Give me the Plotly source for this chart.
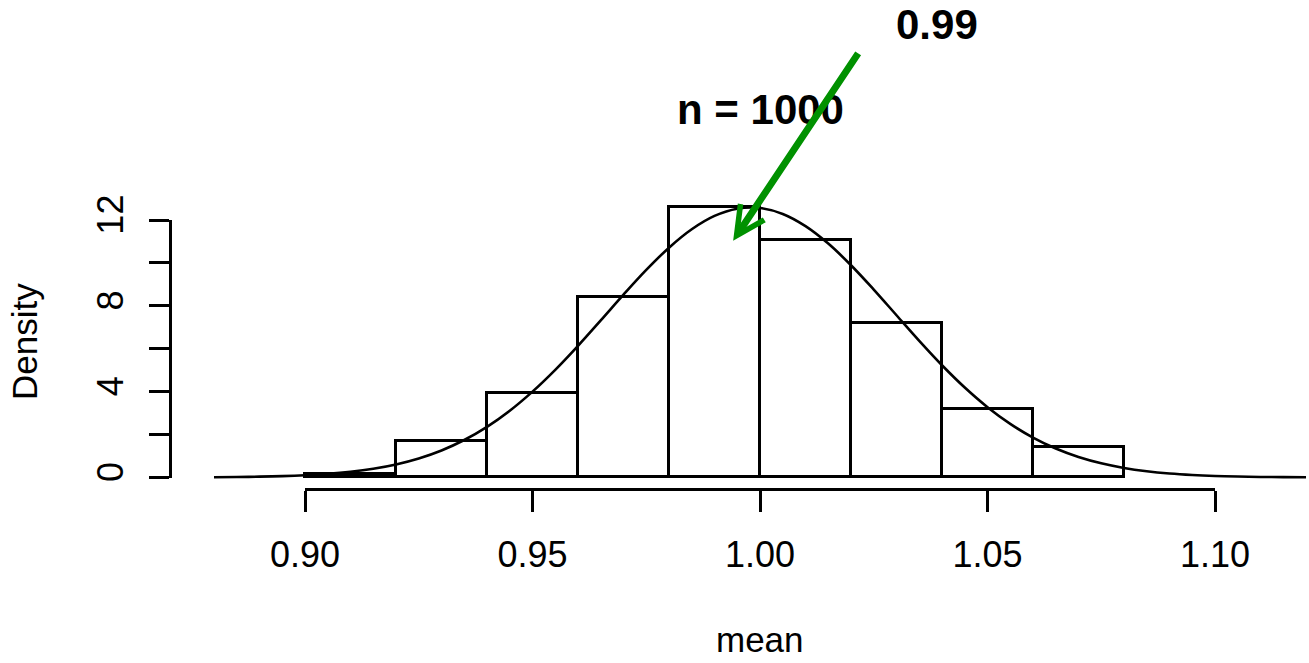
import plotly.graph_objects as go

# ---- data ----
bin_left = [0.90, 0.92, 0.94, 0.96, 0.98, 1.00, 1.02, 1.04, 1.06]
bin_width = 0.02
density = [0.15, 1.70, 3.95, 8.40, 12.60, 11.05, 7.20, 3.20, 1.40]

curve_x = [0.880, 0.885, 0.890, 0.895, 0.900, 0.905, 0.910, 0.915, 0.920, 0.925,
           0.930, 0.935, 0.940, 0.945, 0.950, 0.955, 0.960, 0.965, 0.970, 0.975,
           0.980, 0.985, 0.990, 0.995, 1.000, 1.005, 1.010, 1.015, 1.020, 1.025,
           1.030, 1.035, 1.040, 1.045, 1.050, 1.055, 1.060, 1.065, 1.070, 1.075,
           1.080, 1.085, 1.090, 1.095, 1.100, 1.105, 1.110, 1.115, 1.120]
curve_y = [0.012, 0.022, 0.038, 0.064, 0.106, 0.170, 0.267, 0.408, 0.609, 0.887,
           1.261, 1.747, 2.360, 3.110, 4.001, 5.016, 6.135, 7.321, 8.521, 9.673,
           10.711, 11.569, 12.191, 12.528, 12.560, 12.282, 11.715, 10.900, 9.892, 8.757,
           7.561, 6.368, 5.232, 4.193, 3.277, 2.499, 1.859, 1.348, 0.954, 0.659,
           0.443, 0.291, 0.187, 0.117, 0.071, 0.042, 0.025, 0.014, 0.008]

x_ticks = [0.90, 0.95, 1.00, 1.05, 1.10]
x_ticktext = ["0.90", "0.95", "1.00", "1.05", "1.10"]
y_ticks = [0, 2, 4, 6, 8, 10, 12]
y_ticktext = ["0", "", "4", "", "8", "", "12"]

mean_label = "0.99"
n_label = "n = 1000"
arrow_target = (0.9941, 11.03)

W, H = 1309, 663
FONT = "Liberation Sans, Arial, sans-serif"

def px_x(p):
    return p / W

def px_y(p):
    return 1 - p / H

centers = [l + bin_width / 2 for l in bin_left]

fig = go.Figure()

fig.add_trace(go.Bar(
    x=centers, y=density, width=[bin_width] * len(centers),
    marker=dict(color="white", line=dict(color="black", width=3)),
    xaxis="x", yaxis="y", hoverinfo="skip",
))

fig.add_trace(go.Scatter(
    x=curve_x, y=curve_y, mode="lines",
    line=dict(color="black", width=2.6, shape="spline"),
    xaxis="x", yaxis="y", hoverinfo="skip", cliponaxis=False,
))

# invisible traces to realise detached R-style axes
fig.add_trace(go.Scatter(x=[x_ticks[0], x_ticks[-1]], y=[0, 0], mode="markers",
                         marker=dict(opacity=0), xaxis="x2", yaxis="y", hoverinfo="skip"))
fig.add_trace(go.Scatter(x=[1.0, 1.0], y=[y_ticks[0], y_ticks[-1]], mode="markers",
                         marker=dict(opacity=0), xaxis="x", yaxis="y2", hoverinfo="skip"))

fig.update_layout(
    width=W, height=H,
    margin=dict(l=0, r=0, t=0, b=0, autoexpand=False),
    paper_bgcolor="white", plot_bgcolor="rgba(0,0,0,0)",
    showlegend=False, hovermode=False, bargap=0,
    font=dict(family=FONT, color="black", size=35),
    xaxis=dict(domain=[px_x(214), px_x(1306)], range=[0.88, 1.12],
               visible=False, fixedrange=True, automargin=False),
    yaxis=dict(domain=[px_y(488.2), px_y(177.1)], range=[-0.5, 14],
               visible=False, fixedrange=True, automargin=False),
    xaxis2=dict(domain=[px_x(305), px_x(1215)], range=[0.90, 1.10],
                anchor="free", position=px_y(489), automargin=False,
                showline=True, linecolor="black", linewidth=3,
                ticks="outside", ticklen=21, tickwidth=3, tickcolor="black",
                tickvals=x_ticks, ticktext=x_ticktext,
                tickfont=dict(size=36, family=FONT, color="black"),
                ticklabelstandoff=12,
                showgrid=False, zeroline=False, fixedrange=True),
    yaxis2=dict(domain=[px_y(477.5), px_y(220)], range=[0, 12],
                anchor="free", position=px_x(170), automargin=False,
                showline=True, linecolor="black", linewidth=3,
                ticks="outside", ticklen=20, tickwidth=3, tickcolor="black",
                tickvals=y_ticks, ticktext=y_ticktext, tickangle=-90,
                tickfont=dict(size=36, family=FONT, color="black"),
                ticklabelstandoff=12,
                showgrid=False, zeroline=False, fixedrange=True),
)

fig.add_annotation(text="mean", xref="paper", yref="paper",
                   x=px_x(760), y=px_y(639), xanchor="center", yanchor="middle",
                   showarrow=False, font=dict(size=35, family=FONT))
fig.add_annotation(text="Density", xref="paper", yref="paper",
                   x=px_x(24), y=px_y(342), xanchor="center", yanchor="middle",
                   textangle=-90, showarrow=False, font=dict(size=35, family=FONT))
fig.add_annotation(text="<b>" + n_label + "</b>", xref="paper", yref="paper",
                   x=px_x(760), y=px_y(110), xanchor="center", yanchor="middle",
                   showarrow=False, font=dict(size=42, family=FONT))
fig.add_annotation(text="<b>" + mean_label + "</b>", xref="paper", yref="paper",
                   x=px_x(937), y=px_y(25), xanchor="center", yanchor="middle",
                   showarrow=False, font=dict(size=42, family=FONT))
fig.add_annotation(text="", x=arrow_target[0], y=arrow_target[1], xref="x", yref="y",
                   showarrow=True, ax=126, ay=-189, arrowhead=5, arrowsize=0.8,
                   arrowwidth=7, arrowcolor="#009100")

fig.write_html("out.html")
